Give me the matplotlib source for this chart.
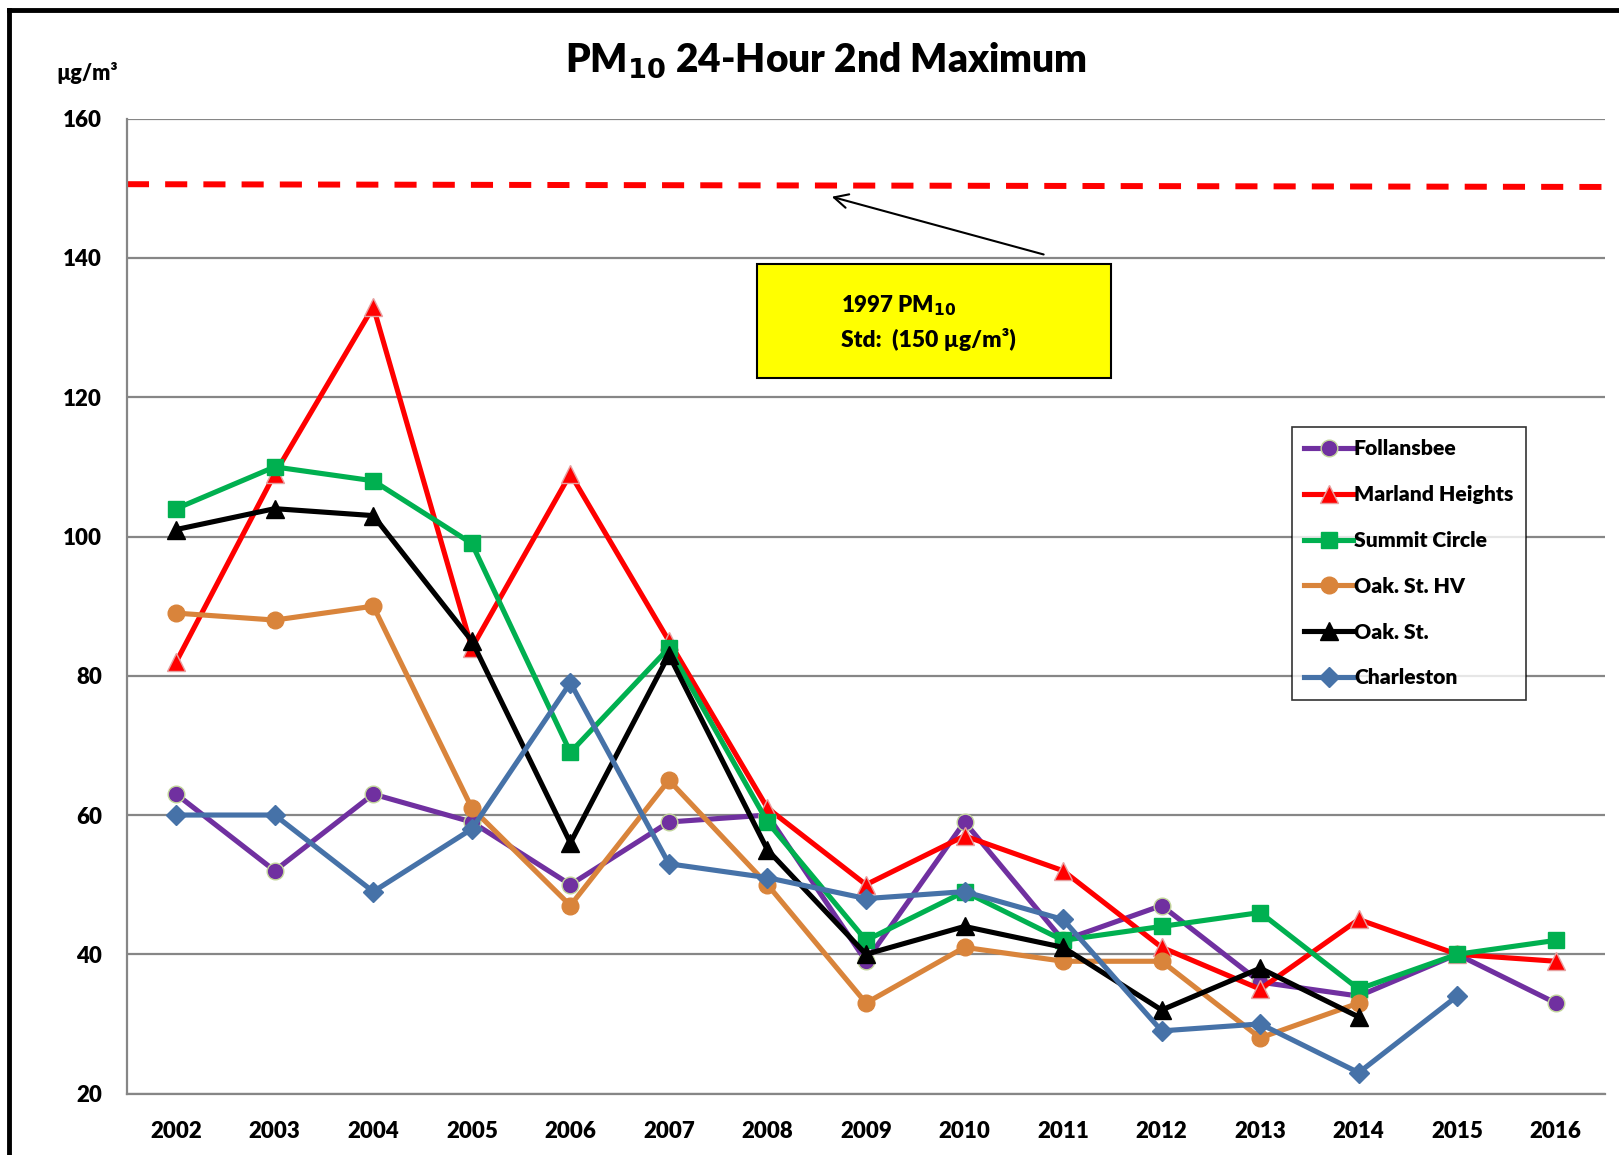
import matplotlib.pyplot as plt
from matplotlib.lines import Line2D
from matplotlib.patches import Rectangle
import numpy as np

plt.rcParams['font.family'] = ['Lato', 'DejaVu Sans']
plt.rcParams['font.weight'] = 'bold'
plt.rcParams['mathtext.default'] = 'bf'

years = ['2002', '2003', '2004', '2005', '2006', '2007', '2008', '2009',
         '2010', '2011', '2012', '2013', '2014', '2015', '2016']
nan = np.nan
follansbee = [63, 52, 63, 59, 50, 59, 60, 39, 59, 42, 47, 36, 34, 40, 33]
marland = [82, 109, 133, 84, 109, 85, 61, 50, 57, 52, 41, 35, 45, 40, 39]
summit = [104, 110, 108, 99, 69, 84, 59, 42, 49, 42, 44, 46, 35, 40, 42]
oak_hv = [89, 88, 90, 61, 47, 65, 50, 33, 41, 39, 39, 28, 33, nan, nan]
oak = [101, 104, 103, 85, 56, 83, 55, 40, 44, 41, 32, 38, 31, nan, nan]
charleston = [60, 60, 49, 58, 79, 53, 51, 48, 49, 45, 29, 30, 23, 34, nan]
std_line = [150.6, 150.2]

x = np.arange(len(years))

fig = plt.figure(figsize=(16.19, 11.55), dpi=100)
ax = fig.add_axes([0.0784, 0.0532, 0.913, 0.844])

# 1997 standard line
ax.plot([-0.5, 14.5], std_line, color='#FF0000', linewidth=4.3,
        dashes=(3.7, 2.7), zorder=2)

# series: label, data, color, marker, marker edge, size
series = [
    ('Follansbee', follansbee, '#7030A0', 'o', '#C3D69B', 12),
    ('Marland Heights', marland, '#FF0000', '^', '#E6A0A0', 13),
    ('Summit Circle', summit, '#00B050', 's', '#00B050', 12),
    ('Oak. St. HV', oak_hv, '#D9843B', 'o', '#D9843B', 12),
    ('Oak. St.', oak, '#000000', '^', '#000000', 13),
    ('Charleston', charleston, '#4672A8', 'D', '#4672A8', 10),
]
for name, vals, col, mk, mec, ms in series:
    ax.plot(x, vals, color=col, linewidth=3.7, marker=mk, markersize=ms,
            markerfacecolor=col, markeredgecolor=mec, markeredgewidth=1,
            label=name, zorder=3)

ax.set_xlim(-0.5, 14.5)
ax.set_ylim(20, 160)
ax.set_yticks(range(20, 161, 20))
ax.set_xticks(x)
ax.set_xticklabels(years)
ax.tick_params(length=0, labelsize=16, pad=18)
ax.tick_params(axis='x', pad=20)
for lbl in ax.get_xticklabels() + ax.get_yticklabels():
    lbl.set_fontweight('heavy')
ax.yaxis.grid(True, color='#868686', linewidth=1.6)
ax.set_axisbelow(True)
for s in ['top', 'right']:
    ax.spines[s].set_visible(False)
for s in ['left', 'bottom']:
    ax.spines[s].set_color('#868686')
    ax.spines[s].set_linewidth(1.6)

leg = ax.legend(loc='upper left', bbox_to_anchor=(0.788, 0.684), fontsize=15.2,
                frameon=True, fancybox=False, edgecolor='black',
                handlelength=2.3, handletextpad=0.05, labelspacing=1.27,
                borderpad=0.6, borderaxespad=0)
leg.get_frame().set_linewidth(1.2)
for t in leg.get_texts():
    t.set_fontweight('heavy')

# yellow annotation box
ax.add_patch(Rectangle((0.426, 0.734), 0.24, 0.117, transform=ax.transAxes,
                       facecolor='#FFFF00', edgecolor='black', linewidth=1.5,
                       zorder=4))
ax.text(0.483, 0.808, '1997 PM$_{10}$', transform=ax.transAxes,
        fontsize=16, fontweight='heavy', va='center', ha='left', zorder=5)
ax.text(0.483, 0.774, 'Std:  (150 µg/m³)', transform=ax.transAxes,
        fontsize=16.5, fontweight='heavy', va='center', ha='left', zorder=5)
ax.annotate('', xy=(0.475, 0.9207), xytext=(0.622, 0.860),
            xycoords='axes fraction', textcoords='axes fraction',
            arrowprops=dict(arrowstyle='->', color='black', lw=1.5,
                            mutation_scale=25))

fig.text(0.51, 0.948, 'PM$_{10}$ 24-Hour 2nd Maximum', ha='center',
         va='center', fontsize=28, fontweight='heavy')
fig.text(0.035, 0.937, 'µg/m³', fontsize=15.5, fontweight='heavy', va='center')

# outer frame (left and top edges)
fig.add_artist(Line2D([9 / 1619, 9 / 1619], [-0.01, 1 - 10 / 1155],
                      color='black', linewidth=3.5))
fig.add_artist(Line2D([9 / 1619, 1.01], [1 - 10 / 1155, 1 - 10 / 1155],
                      color='black', linewidth=3.5))

fig.savefig('out.png', dpi=100)
